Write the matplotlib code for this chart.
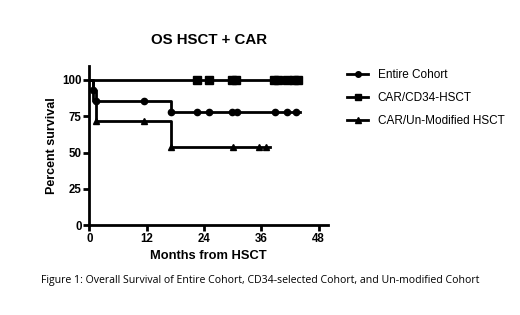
import matplotlib
matplotlib.use("Agg")
import matplotlib.pyplot as plt
import numpy as np
from matplotlib.lines import Line2D

plt.rcParams['font.family'] = ['Liberation Sans', 'DejaVu Sans']

# Kaplan-Meier step data (months, percent survival)
entire_t = [0, 0.8, 1.3, 17.0, 44.1]
entire_s = [100, 92.9, 85.7, 77.9, 77.9]
entire_marks = [0.8, 1.3, 11.4, 17.0, 22.6, 25.1, 29.8, 30.8, 38.9, 41.3, 43.2]

cd34_t = [0, 44.1]
cd34_s = [100, 100]
cd34_marks = [22.6, 25.1, 29.8, 30.6, 38.7, 39.5, 41.3, 42.9, 43.6]

unmod_t = [0, 0.8, 1.3, 17.0, 37.7]
unmod_s = [100, 85.7, 71.4, 53.6, 53.6]
unmod_marks = [1.3, 11.4, 17.0, 30.0, 35.5, 37.0]

labels = ["Entire Cohort", "CAR/CD34-HSCT", "CAR/Un-Modified HSCT"]
markers = ["o", "s", "^"]
xticks = [0, 12, 24, 36, 48]
yticks = [0, 25, 50, 75, 100]

def step_val(t, s, x):
    idx = np.searchsorted(t, x, side='right') - 1
    return np.asarray(s)[idx]

fig = plt.figure(figsize=(5.2, 3.15), dpi=100)
ax = fig.add_axes([89.3/520, 90/315, 239/520, 159.5/315])

series = [(entire_t, entire_s, entire_marks, 4.5),
          (cd34_t, cd34_s, cd34_marks, 5.5),
          (unmod_t, unmod_s, unmod_marks, 5)]
for (t, s, m, ms), mk in zip(series, markers):
    ax.step(t, s, where='post', color='black', lw=2)
    ax.plot(m, step_val(t, s, m), ls='none', marker=mk, color='black', ms=ms)

ax.set_xlim(0, 50)
ax.set_ylim(0, 110)
ax.set_xticks(xticks)
ax.set_yticks(yticks)
for sp in ['top', 'right']:
    ax.spines[sp].set_visible(False)
for sp in ['left', 'bottom']:
    ax.spines[sp].set_linewidth(2)
ax.tick_params(axis='both', direction='out', width=2, length=4, labelsize=8.3, pad=1.5)
for lab in ax.get_xticklabels() + ax.get_yticklabels():
    lab.set_fontweight('bold')
ax.set_xlabel("Months from HSCT", fontsize=9.3, fontweight='bold', labelpad=4)
ax.set_ylabel("Percent survival", fontsize=9.0, fontweight='bold', labelpad=3)

fig.text(209/520, 1 - 40.5/315, "OS HSCT + CAR", ha='center', va='center',
         fontsize=10.8, fontweight='bold')

handles = [Line2D([], [], color='black', lw=2, marker=mk, ms=ms)
           for mk, ms in zip(markers, [4, 4.5, 4.5])]
fig.legend(handles, labels, loc='upper left', bbox_to_anchor=(347/520, 1 - 69/315),
           frameon=False, fontsize=8.5, handlelength=1.8, labelspacing=0.95,
           handletextpad=0.8, borderaxespad=0, borderpad=0)

fig.text(260/520, 1 - 280/315,
         "Figure 1: Overall Survival of Entire Cohort, CD34-selected Cohort, and Un-modified Cohort",
         ha='center', va='center', fontsize=7.6, family=['Open Sans', 'DejaVu Sans'])

fig.savefig("out.png", dpi=100)
